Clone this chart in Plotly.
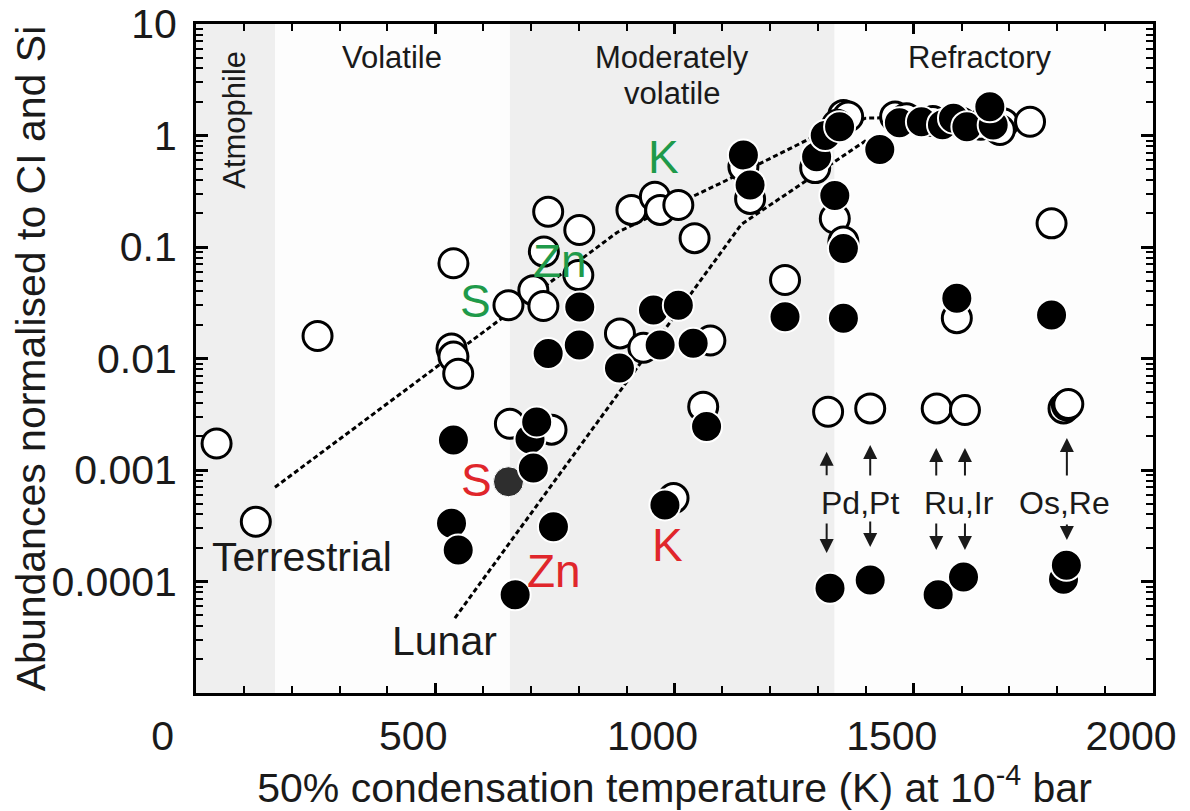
import math
import plotly.graph_objects as go

# ---------------- data ----------------
terr_T = [43, 125, 254, 538, 534, 538, 548, 653, 705, 726, 727, 736, 801, 799,
          886, 910, 959, 970, 1008, 1042, 935, 1075, 656, 743, 998, 1060,
          1144, 1158, 1231, 1294, 1335, 1353, 1353, 1363, 1340, 1461, 1485,
          1540, 1600, 1640, 1687, 1680, 1743, 1590, 1788,
          1321, 1409, 1548, 1607, 1813, 1820, 1823]
terr_A = [0.00173, 0.000343, 0.0159, 0.0714, 0.0123, 0.0104, 0.0073, 0.030,
          0.041, 0.0296, 0.091, 0.207, 0.142, 0.056,
          0.0168, 0.215, 0.282, 0.215, 0.238, 0.12, 0.0125, 0.0145, 0.0026,
          0.0023, 0.00056, 0.0037,
          0.525, 0.27, 0.0506, 0.51, 0.18, 0.112, 1.53, 1.48, 1.25, 1.48, 1.43,
          1.35, 1.3, 1.25, 1.29, 1.12, 1.33, 0.023, 0.163,
          0.00333, 0.00357, 0.00357, 0.00345, 0.00357, 0.0038, 0.0039]

lunar_T = [538, 534, 548, 667, 698, 712, 705, 747, 736, 801, 802, 885, 956,
           1008, 970, 1039, 980, 1067, 1144, 1158, 1297, 1315, 1345, 1335,
           1353, 1231, 1353, 1429, 1470, 1516, 1560, 1583, 1611, 1666, 1659,
           1590, 1788, 1325, 1409, 1551, 1604, 1813, 1819]
lunar_A = [0.00186, 0.000333, 0.000192, 7.6e-5, 0.0019, 0.0027, 0.00104,
           0.00031, 0.0111, 0.0132, 0.029, 0.0082, 0.0272,
           0.030, 0.0132, 0.0137, 0.000486, 0.00245, 0.668, 0.36, 0.645, 1.0,
           1.2, 0.29, 0.097, 0.0237, 0.023, 0.75, 1.3, 1.33, 1.25, 1.43, 1.2,
           1.24, 1.81, 0.0347, 0.0245, 8.7e-5, 1.03e-4, 7.6e-5, 1.1e-4,
           1.05e-4, 1.4e-4]

lunarS_T = [653]
lunarS_A = [0.000785]

terr_line_T = [165, 880, 1100, 1300, 1400, 1430]
terr_line_A = [7.0e-4, 0.135, 0.38, 1.02, 1.43, 1.44]
lunar_line_T = [541, 1140, 1400]
lunar_line_A = [4.7e-5, 0.16, 0.9]

x_tickvals = [0, 500, 1000, 1500, 2000]
x_ticktext = ["0\u00a0\u00a0", "500", "1000", "1500", "2000"]
y_tickvals = [1e-4, 1e-3, 1e-2, 1e-1, 1, 10]
y_ticktext = ["0.0001", "0.001", "0.01", "0.1", "1", "10"]
y_minor = [k * 10.0 ** e for e in range(-5, 1) for k in range(2, 10)]

bands = [(0, 165), (656, 1334)]

FONT = "Liberation Sans, Arial, Helvetica, sans-serif"
TXT = "#1a1a1a"
GREEN = "#1f9a4a"
RED = "#e0262b"

fig = go.Figure()

dash_line = dict(color="black", width=3, dash="5px,3px")
fig.add_trace(go.Scatter(x=terr_line_T, y=terr_line_A, mode="lines",
                         line=dash_line, hoverinfo="skip"))
fig.add_trace(go.Scatter(x=lunar_line_T, y=lunar_line_A, mode="lines",
                         line=dash_line, hoverinfo="skip"))

fig.add_trace(go.Scatter(x=terr_T, y=terr_A, mode="markers", name="Terrestrial",
                         marker=dict(size=29, color="white",
                                     line=dict(color="black", width=3))))
fig.add_trace(go.Scatter(x=lunarS_T, y=lunarS_A, mode="markers", name="Lunar S",
                         marker=dict(size=30, color="#2e2e2e",
                                     line=dict(color="white", width=1))))
fig.add_trace(go.Scatter(x=lunar_T, y=lunar_A, mode="markers", name="Lunar",
                         marker=dict(size=31, color="black",
                                     line=dict(color="white", width=2))))

for x0, x1 in bands:
    fig.add_shape(type="rect", xref="x", yref="paper", x0=x0, x1=x1, y0=0, y1=1,
                  fillcolor="#efefef", line=dict(width=0), layer="below")

ann = []


def txt(x, logy, s, size, color=TXT, angle=0):
    ann.append(dict(x=x, y=logy, xref="x", yref="y", text=s, showarrow=False,
                    textangle=angle, xanchor="center", yanchor="middle",
                    font=dict(size=size, color=color, family=FONT)))


# region labels
txt(79, 0.139, "Atmophile", 31, angle=-90)
txt(410, 0.704, "Volatile", 31)
txt(995, 0.704, "Moderately", 31)
txt(995, 0.381, "volatile", 31)
txt(1638, 0.704, "Refractory", 31)

# element labels
txt(976, -0.197, "K", 46, GREEN)
txt(761, -1.126, "Zn", 46, GREEN)
txt(585, -1.484, "S", 46, GREEN)
txt(587, -3.09, "S", 46, RED)
txt(748, -3.906, "Zn", 46, RED)
txt(986, -3.673, "K", 46, RED)

txt(221, -3.78, "Terrestrial", 41)
txt(520, -4.534, "Lunar", 41)

txt(1388, -3.296, "Pd,Pt", 32)
txt(1595, -3.296, "Ru,Ir", 32)
txt(1815, -3.296, "Os,Re", 32)

arrows = [(1318, -2.836, 25), (1409, -2.776, 32), (1547, -2.803, 29),
          (1607, -2.803, 29), (1820, -2.713, 39),
          (1318, -3.744, -31), (1409, -3.69, -27), (1547, -3.717, -28),
          (1607, -3.717, -28), (1820, -3.628, -17)]
for ax_x, tip, off in arrows:
    ann.append(dict(x=ax_x, y=tip, xref="x", yref="y", text="", showarrow=True,
                    ax=0, ay=off, arrowhead=2, arrowsize=1.4, arrowwidth=2,
                    arrowcolor=TXT, standoff=0))

fig.update_layout(annotations=ann)

# the page body adds an 8 px offset, so the figure is 8 px smaller each way
fig.update_layout(
    width=1182, height=803,
    margin=dict(l=188, r=37, t=16, b=118, autoexpand=False),
    paper_bgcolor="white", plot_bgcolor="#fdfdfd",
    showlegend=False,
    font=dict(family=FONT, color=TXT),
)

fig.update_xaxes(
    automargin=False, ticklabeloverflow="allow",
    range=[0, 2000], tickvals=x_tickvals, ticktext=x_ticktext,
    ticks="inside", ticklen=10,
    tickwidth=2.5, tickcolor="black", showline=True, linewidth=3,
    linecolor="black", mirror="allticks", showgrid=False, zeroline=False,
    tickfont=dict(size=41, family=FONT, color=TXT), ticklabelshift=-22,
    ticklabelstandoff=5,
    minor=dict(dtick=100, tick0=0, ticks="inside", ticklen=7, tickwidth=2,
               tickcolor="black", showgrid=False),
    title=dict(text="50% condensation temperature (K) at 10<sup>-4</sup> bar",
               font=dict(size=41, family=FONT, color=TXT), standoff=8),
)
fig.update_yaxes(
    automargin=False, ticklabeloverflow="allow",
    type="log", range=[-5, 1], tickvals=y_tickvals, ticktext=y_ticktext,
    ticks="inside", ticklen=12, tickwidth=2.5, tickcolor="black",
    showline=True, linewidth=3, linecolor="black", mirror="allticks",
    showgrid=False, zeroline=False,
    tickfont=dict(size=41, family=FONT, color=TXT), ticklabelstandoff=8,
    minor=dict(tickvals=y_minor, ticks="inside", ticklen=7, tickwidth=2,
               tickcolor="black", showgrid=False),
    title=dict(text="Abundances normalised to CI and Si",
               font=dict(size=41, family=FONT, color=TXT), standoff=10),
)

fig.write_html("out.html")
